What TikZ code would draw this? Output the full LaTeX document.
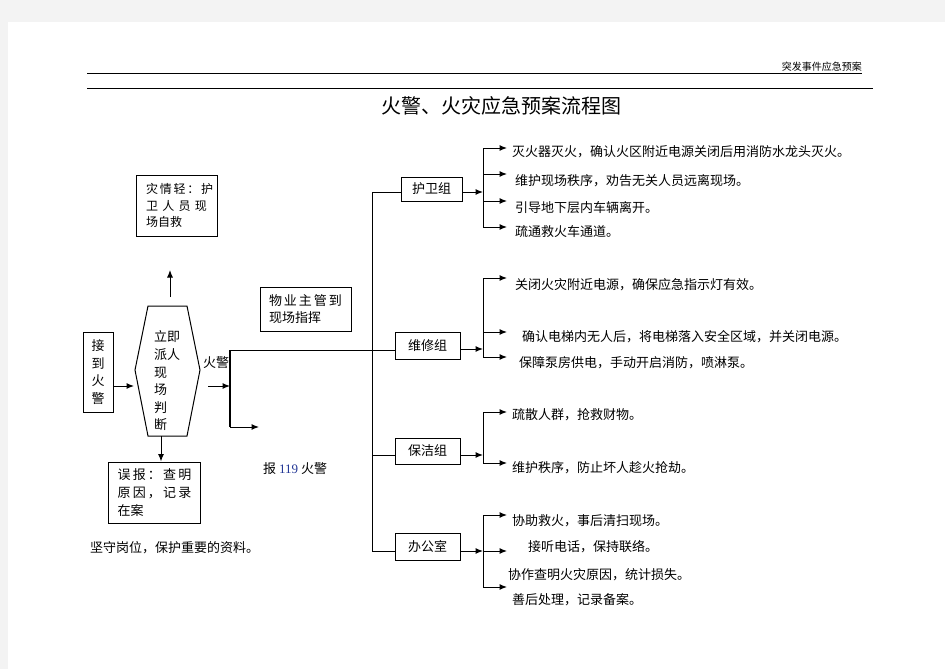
\documentclass[tikz,border=0pt]{standalone}
\usepackage{fontspec}
\setmainfont{Liberation Serif}
\newfontfamily\cjk{Noto Sans CJK SC}
\usetikzlibrary{arrows.meta,positioning}
\definecolor{pagegray}{RGB}{243,243,243}
\definecolor{numblue}{RGB}{35,55,150}
\newcommand{\spreadto}[2]{\makebox[#1][s]{#2}}
\tikzset{
  wire/.style={line width=1pt},
  arr/.style={wire,-{Latex[length=7.5pt,width=6pt]}},
  box/.style={draw,line width=1pt,inner ysep=0pt,font=\cjk\fontsize{13}{17.6}\selectfont},
  grp/.style={box,minimum height=26pt,inner xsep=0pt},
  item/.style={inner sep=0pt,anchor=west,font=\cjk\fontsize{13}{16}\selectfont},
}
\begin{document}
\begin{tikzpicture}[x=1pt,y=-1pt]
% page
\fill[pagegray] (0,0) rectangle (945,669);
\fill[white] (8,22) rectangle (945,669);
\useasboundingbox (0,0) rectangle (945,669);
% header and title
\node[item,anchor=east,font=\cjk\fontsize{10}{12}\selectfont] (head) at (862,67) {突发事件应急预案};
\draw[line width=1pt] (87,74) -- (head.east |- 0,74);
\draw[line width=1pt] (87,88) -- (873,88);
\node[item,anchor=center,font=\cjk\fontsize{20}{24}\selectfont] (title) at (501,106) {火警、火灾应急预案流程图};
% left part
\node[box,minimum width=30pt,minimum height=80pt,inner xsep=0pt,align=center] (alarm) at (98,372) {接\\到\\火\\警};
\draw[wire] (148,306) coordinate (hxtl) -- (187,306) coordinate (hxtr) -- (200,370) coordinate (hxr)
  -- (187,436) coordinate (hxbr) -- (148,436) coordinate (hxbl) -- (135,370) coordinate (hxl) -- cycle;
\node[align=left,inner sep=0pt,font=\cjk\fontsize{13}{17.6}\selectfont] (judge) at (167,381) {立即\\派人\\现\\场\\判\\断};
\coordinate (hxin) at (134,386);
\draw[arr] (alarm.east |- hxin) -- (hxin);
\node[box,font=\cjk\fontsize{12}{16.5}\selectfont,minimum width=81pt,minimum height=61pt,inner xsep=10pt,align=left] (light) at (176.5,205.5)
  {\spreadto{61pt}{灾 情 轻 ： 护}\\\spreadto{61pt}{卫 人 员 现}\\场自救};
\coordinate (upfrom) at (170,297);
\draw[arr] (upfrom) -- (upfrom |- 0,270);
\node[box,minimum width=91pt,minimum height=61pt,inner xsep=9pt,align=left] (wrong) at (154.5,492.5)
  {\spreadto{74pt}{误 报 ： 查 明}\\\spreadto{74pt}{原 因 ， 记 录}\\在案};
\coordinate (hxdown) at (161,436);
\draw[arr] (hxdown) -- (hxdown |- wrong.north);
\node[item] (keep) at (90,548) {坚守岗位，保护重要的资料。};
% fire alarm branch
\coordinate (hxout) at (208,386);
\coordinate (bartop) at (230,350);
\coordinate (barbot) at (230,427);
\draw[arr] (hxout) -- (hxout -| bartop);
\draw[line width=1.4pt] (bartop) -- (barbot);
\node[item] (firelbl) at (203,363) {火警};
\coordinate (callend) at (259,427);
\draw[arr] (barbot) -- (callend);
\node[item] (call) at (263,469) {报 {\rmfamily\color{numblue}119} 火警};
\node[box,minimum width=91pt,minimum height=44pt,inner xsep=9pt,align=left] (boss) at (305.5,309)
  {\spreadto{73pt}{物 业 主 管 到}\\现场指挥};
% groups
\coordinate (bus1) at (372,192);
\coordinate (bus3) at (372,455);
\coordinate (bus4) at (372,551);
\draw[wire] (bus1) -- (bus4);
\node[grp,minimum width=61pt,minimum height=24pt] (guard) at (431.5,189) {护卫组};
\node[grp,minimum width=65pt,minimum height=27pt] (repair) at (427.5,345.5) {维修组};
\node[grp,minimum width=65pt] (clean) at (427.5,451) {保洁组};
\node[grp,minimum width=65pt,minimum height=27pt] (office) at (427.5,546.5) {办公室};
\draw[wire] (bus1) -- (guard.west |- bus1);
\draw[wire] (bartop) -- (repair.west |- bartop);
\draw[wire] (bus3) -- (clean.west |- bus3);
\draw[wire] (bus4) -- (office.west |- bus4);
\foreach \grp/\ly/\top/\bot/\ys in {guard/192/148/227/{148,174,201,227},
    repair/349/278/357/{278,332,357}, clean/455/412/463/{412,463}, office/551/515/587/{515,551,587}} {
  \draw[arr] (\grp.east |- 0,\ly) -- (483,\ly);
  \draw[wire] (483,\top) -- (483,\bot);
  \foreach \y in \ys \draw[arr] (483,\y) -- (507,\y);
}
% tasks
\node[item] (g1a) at (512,152) {灭火器灭火，确认火区附近电源关闭后用消防水龙头灭火。};
\node[item] (g1b) at (515,181) {维护现场秩序，劝告无关人员远离现场。};
\node[item] (g1c) at (515,208) {引导地下层内车辆离开。};
\node[item] (g1d) at (515,232) {疏通救火车通道。};
\node[item] (g2a) at (515,285) {关闭火灾附近电源，确保应急指示灯有效。};
\node[item] (g2b) at (522,337) {确认电梯内无人后，将电梯落入安全区域，并关闭电源。};
\node[item] (g2c) at (519,363) {保障泵房供电，手动开启消防，喷淋泵。};
\node[item] (g3a) at (512,415) {疏散人群，抢救财物。};
\node[item] (g3b) at (512,468) {维护秩序，防止坏人趁火抢劫。};
\node[item] (g4a) at (512,521) {协助救火，事后清扫现场。};
\node[item] (g4b) at (528,547) {接听电话，保持联络。};
\node[item] (g4c) at (508,575) {协作查明火灾原因，统计损失。};
\node[item] (g4d) at (512,600) {善后处理，记录备案。};
\end{tikzpicture}
\end{document}
